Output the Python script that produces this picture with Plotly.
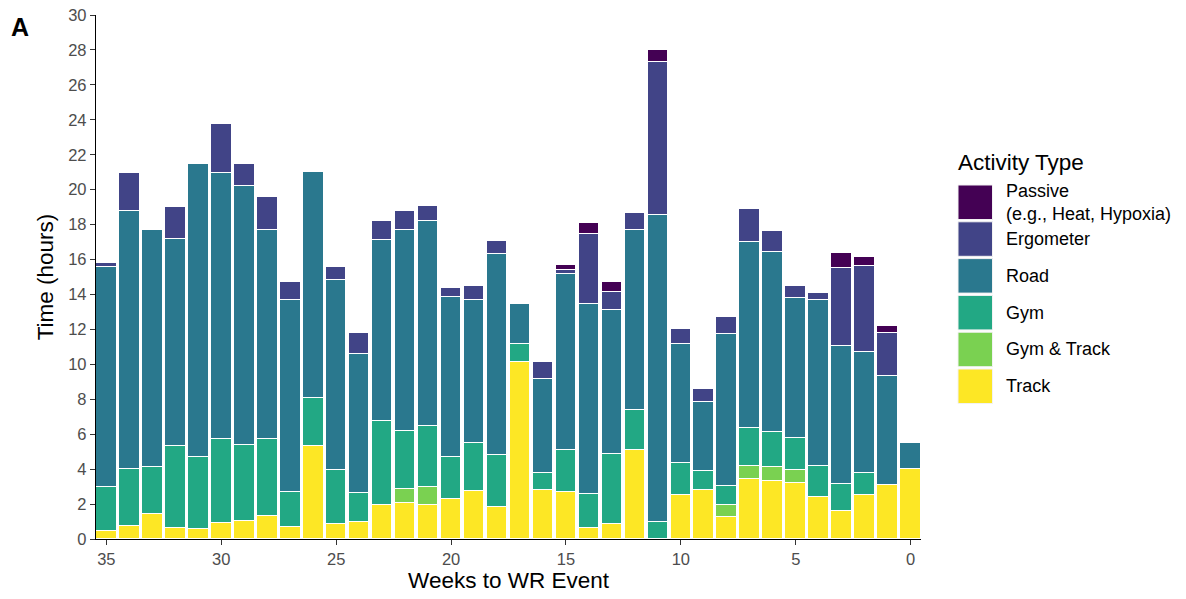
import plotly.graph_objects as go

weeks = list(range(35, -1, -1))

track = [0.48, 0.76, 1.43, 0.61, 0.57, 0.90, 1.05, 1.34, 0.71, 5.34, 0.84, 0.99,
         1.95, 2.08, 1.97, 2.31, 2.73, 1.81, 10.16, 2.79, 2.67, 0.65, 0.85, 5.12,
         0.0, 2.51, 2.81, 1.28, 3.43, 3.34, 3.19, 2.39, 1.58, 2.54, 3.09, 4.01]
gym_track = [0, 0, 0, 0, 0, 0, 0, 0, 0, 0, 0, 0,
             0, 0.78, 1.02, 0, 0, 0, 0, 0, 0, 0, 0, 0,
             0, 0, 0, 0.65, 0.75, 0.76, 0.78, 0, 0, 0, 0, 0]
gym = [2.51, 3.23, 2.71, 4.70, 4.14, 4.82, 4.35, 4.37, 2.00, 2.71, 3.11, 1.66,
       4.80, 3.32, 3.48, 2.36, 2.75, 2.98, 0.99, 0.99, 2.41, 1.92, 4.04, 2.26,
       0.97, 1.86, 1.11, 1.12, 2.19, 2.01, 1.81, 1.77, 1.55, 1.24, 0, 0]
road = [12.60, 14.80, 13.55, 11.88, 16.76, 15.21, 14.81, 11.98, 10.99, 12.96, 10.88, 7.94,
        10.38, 11.51, 11.75, 9.16, 8.18, 11.52, 2.30, 5.40, 10.11, 10.88, 8.24, 10.32,
        17.60, 6.82, 3.91, 8.67, 10.65, 10.32, 8.02, 9.52, 7.92, 6.92, 6.22, 1.47]
ergometer = [0.19, 2.14, 0, 1.80, 0, 2.82, 1.26, 1.90, 1.01, 0, 0.76, 1.18,
             1.09, 1.07, 0.84, 0.52, 0.84, 0.77, 0, 0.97, 0.20, 4.01, 1.03, 0.99,
             8.76, 0.82, 0.75, 0.97, 1.89, 1.22, 0.70, 0.40, 4.46, 4.93, 2.46, 0]
passive = [0, 0, 0, 0, 0, 0, 0, 0, 0, 0, 0, 0,
           0, 0, 0, 0, 0, 0, 0, 0, 0.27, 0.66, 0.57, 0,
           0.68, 0, 0, 0, 0, 0, 0, 0, 0.84, 0.49, 0.44, 0]

# stacking order bottom -> top
series_names = ["Track", "Gym & Track", "Gym", "Road", "Ergometer",
                "Passive<br>(e.g., Heat, Hypoxia)"]
series_values = [track, gym_track, gym, road, ergometer, passive]
series_colors = ["#FDE725", "#7AD151", "#22A884", "#2A788E", "#414487", "#440154"]

y_ticks = list(range(0, 31, 2))
x_ticks = [35, 30, 25, 20, 15, 10, 5, 0]

FONT = "Liberation Sans, Arial, Helvetica, sans-serif"

fig = go.Figure()
for name, vals, col in zip(series_names, series_values, series_colors):
    fig.add_trace(go.Bar(
        x=weeks,
        y=[v if v else None for v in vals],
        name=name,
        width=0.9,
        marker=dict(color=col, line=dict(color="white", width=1.1)),
        showlegend=False,
    ))

L, R, T, B = 96, 921, 15, 539
W, H = 1186, 599
pw, ph = R - L, B - T

def px(xp):
    return (xp - L) / pw

def py(yp):
    return (B - yp) / ph

# custom legend (top entry first)
shapes = []
annotations = []
leg_order = list(range(len(series_names)))[::-1]
top0, step, ksize = 185.0, 36.8, 34.5
for i, idx in enumerate(leg_order):
    t = top0 + i * step
    shapes.append(dict(type="rect", xref="paper", yref="paper",
                       x0=px(958), x1=px(958 + ksize), y0=py(t + ksize), y1=py(t),
                       fillcolor=series_colors[idx],
                       line=dict(color="#f2f2f2", width=1)))
    annotations.append(dict(xref="paper", yref="paper", x=px(1004), y=py(t + ksize / 2),
                            text=series_names[idx], showarrow=False, xanchor="left",
                            yanchor="middle", align="left",
                            font=dict(family=FONT, size=18, color="black")))

annotations.append(dict(xref="paper", yref="paper", x=px(956), y=py(162),
                        text="Activity Type", showarrow=False, xanchor="left",
                        yanchor="middle", font=dict(family=FONT, size=22.5, color="black")))
annotations.append(dict(xref="paper", yref="paper", x=px(9), y=py(27),
                        text="<b>A</b>", showarrow=False, xanchor="left",
                        yanchor="middle", font=dict(family=FONT, size=25, color="black")))

fig.update_layout(
    width=W, height=H,
    margin=dict(l=L, r=W - R, t=T, b=H - B, pad=0, autoexpand=False),
    barmode="stack",
    bargap=0,
    plot_bgcolor="white",
    paper_bgcolor="white",
    font=dict(family=FONT),
    shapes=shapes,
    annotations=annotations,
    xaxis=dict(
        range=[35.45, -0.45],
        automargin=False,
        tickvals=x_ticks,
        ticktext=[str(v) for v in x_ticks],
        ticks="outside", ticklen=5, tickwidth=1.2, tickcolor="#333333",
        showline=True, linecolor="black", linewidth=1.3,
        showgrid=False, zeroline=False,
        tickfont=dict(family=FONT, size=16.5, color="#4D4D4D"),
        title=dict(text="Weeks to WR Event", standoff=5,
                   font=dict(family=FONT, size=22.5, color="black")),
    ),
    yaxis=dict(
        range=[0, 30],
        automargin=False,
        tickvals=y_ticks,
        ticktext=[str(v) for v in y_ticks],
        ticks="outside", ticklen=5, tickwidth=1.2, tickcolor="#333333",
        showline=True, linecolor="black", linewidth=1.3,
        showgrid=False, zeroline=False,
        tickfont=dict(family=FONT, size=16.5, color="#4D4D4D"),
        title=dict(text="Time (hours)", standoff=8,
                   font=dict(family=FONT, size=22.5, color="black")),
    ),
)

fig.write_html("out.html")
